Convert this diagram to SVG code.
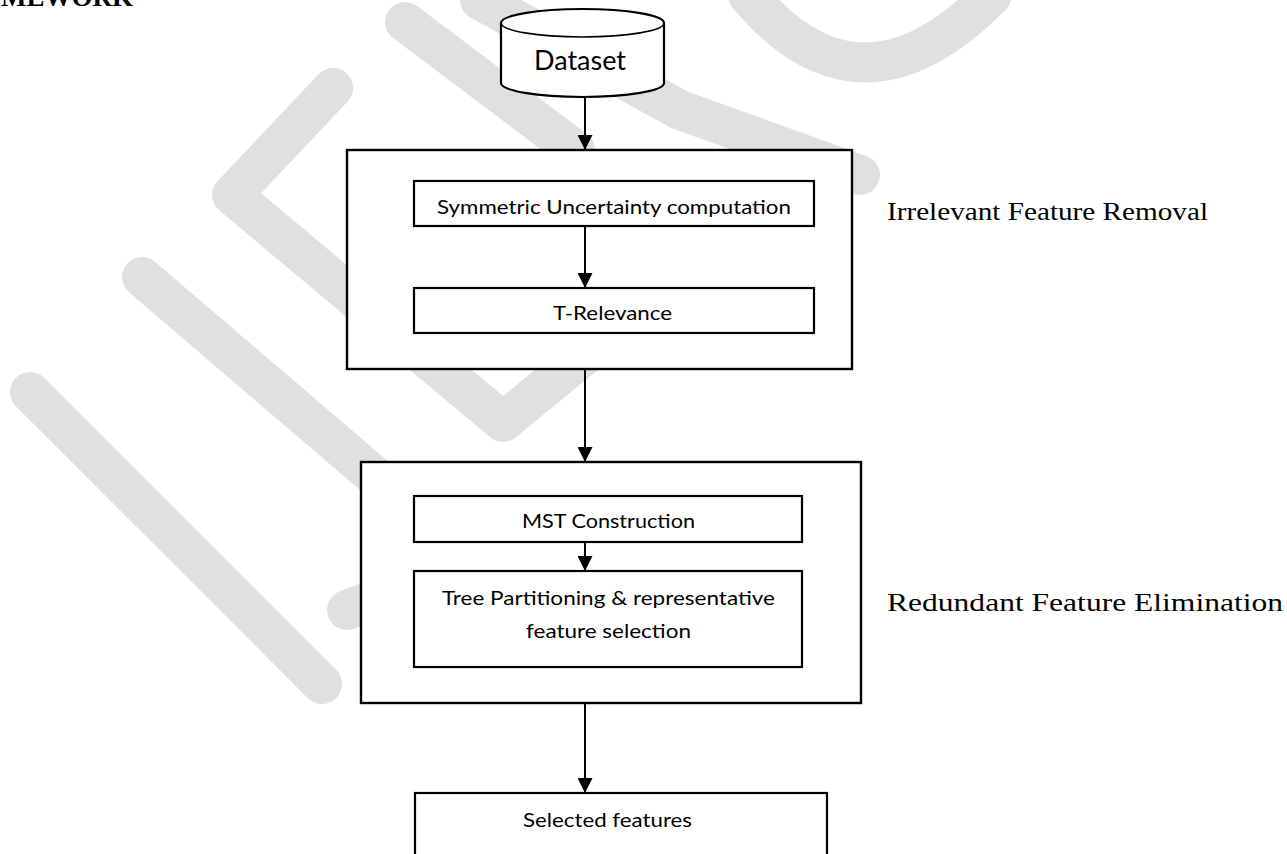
<svg xmlns="http://www.w3.org/2000/svg" width="1287" height="854" viewBox="0 0 1287 854">
  <defs>
    <marker id="arr" viewBox="0 0 10 10" refX="10" refY="5" markerWidth="7.5" markerHeight="7.5" markerUnits="strokeWidth" orient="auto">
      <path d="M0,0 L10,5 L0,10 Z" fill="#000"/>
    </marker>
    <style>
      .wm { fill: none; stroke: #e0e0e0; stroke-width: 40; stroke-linecap: round; stroke-linejoin: round; }
      .box { fill: #fff; stroke: #000; stroke-width: 2.2; }
      .outer { fill: #fff; stroke: #000; stroke-width: 2.4; }
      .conn { fill: none; stroke: #000; stroke-width: 2; marker-end: url(#arr); }
      .lbl { font-family: Lato, "Open Sans", "Liberation Sans", sans-serif; font-size: 19px; fill: #000; text-anchor: middle; }
      .big { font-size: 27px; }
      .side { font-family: "Liberation Serif", "DejaVu Serif", serif; font-size: 26px; fill: #000; }
      .title { font-family: "Liberation Serif", serif; font-weight: bold; font-size: 27px; fill: #000; }
    </style>
  </defs>

  <rect width="1287" height="854" fill="#fff"/>

  <g id="watermark">
    <polyline class="wm" points="333,88 232,195 503,422 700,260"/>
    <line class="wm" x1="142" y1="277" x2="420" y2="515"/>
    <line class="wm" x1="30" y1="392" x2="322" y2="684"/>
    <line class="wm" x1="347" y1="610" x2="400" y2="590"/>
    <line class="wm" x1="405" y1="22" x2="575" y2="150"/>
    <polyline class="wm" points="480,0 680,110 860,175"/>
    <path class="wm" d="M748,-5 Q860,130 992,-5"/>
  </g>

  <text class="title" x="1" y="6">MEWORK</text>

  <g id="connectors">
    <line class="conn" x1="585" y1="97" x2="585" y2="150"/>
    <line class="conn" x1="585" y1="369" x2="585" y2="462"/>
    <line class="conn" x1="585" y1="703" x2="585" y2="793"/>
  </g>

  <g id="dataset">
    <path class="box" stroke-width="1.6" d="M501,23 A81.5,14 0 0 1 664,23 L664,83 A81.5,14 0 0 1 501,83 Z"/>
    <path fill="none" stroke="#000" stroke-width="1.6" d="M501,23 A81.5,14 0 0 0 664,23"/>
    <text class="lbl big" x="580" y="70" textLength="92" lengthAdjust="spacingAndGlyphs">Dataset</text>
  </g>

  <g id="irrelevant-removal">
    <rect class="outer" x="347" y="150" width="505" height="219"/>
  </g>
  <g id="su-computation">
    <rect class="box" x="414" y="181" width="400" height="45"/>
    <text class="lbl" x="614" y="214" textLength="354" lengthAdjust="spacingAndGlyphs">Symmetric Uncertainty computation</text>
  </g>
  <g id="inner-connector">
    <line class="conn" x1="585" y1="226" x2="585" y2="288"/>
  </g>
  <g id="t-relevance">
    <rect class="box" x="414" y="288" width="400" height="45"/>
    <text class="lbl" x="612.5" y="320" textLength="119" lengthAdjust="spacingAndGlyphs">T-Relevance</text>
  </g>

  <g id="redundant-elimination">
    <rect class="outer" x="361" y="462" width="500" height="241"/>
  </g>
  <g id="mst">
    <rect class="box" x="414" y="496" width="388" height="46"/>
    <text class="lbl" x="608.5" y="528" textLength="173" lengthAdjust="spacingAndGlyphs">MST Construction</text>
  </g>
  <g id="inner-connector-2">
    <line class="conn" x1="585" y1="542" x2="585" y2="571"/>
  </g>
  <g id="tree-partitioning">
    <rect class="box" x="414" y="571" width="388" height="96"/>
    <text class="lbl" x="608.5" y="605" textLength="333" lengthAdjust="spacingAndGlyphs">Tree Partitioning &amp; representative</text>
    <text class="lbl" x="608.5" y="638" textLength="165" lengthAdjust="spacingAndGlyphs">feature selection</text>
  </g>

  <g id="selected-features">
    <rect class="box" x="415" y="793" width="412" height="80"/>
    <text class="lbl" x="607.5" y="827" textLength="169" lengthAdjust="spacingAndGlyphs">Selected features</text>
  </g>

  <g id="side-labels">
    <text class="side" x="887" y="220" textLength="321" lengthAdjust="spacingAndGlyphs">Irrelevant Feature Removal</text>
    <text class="side" x="887" y="611" textLength="396" lengthAdjust="spacingAndGlyphs">Redundant Feature Elimination</text>
  </g>
</svg>
